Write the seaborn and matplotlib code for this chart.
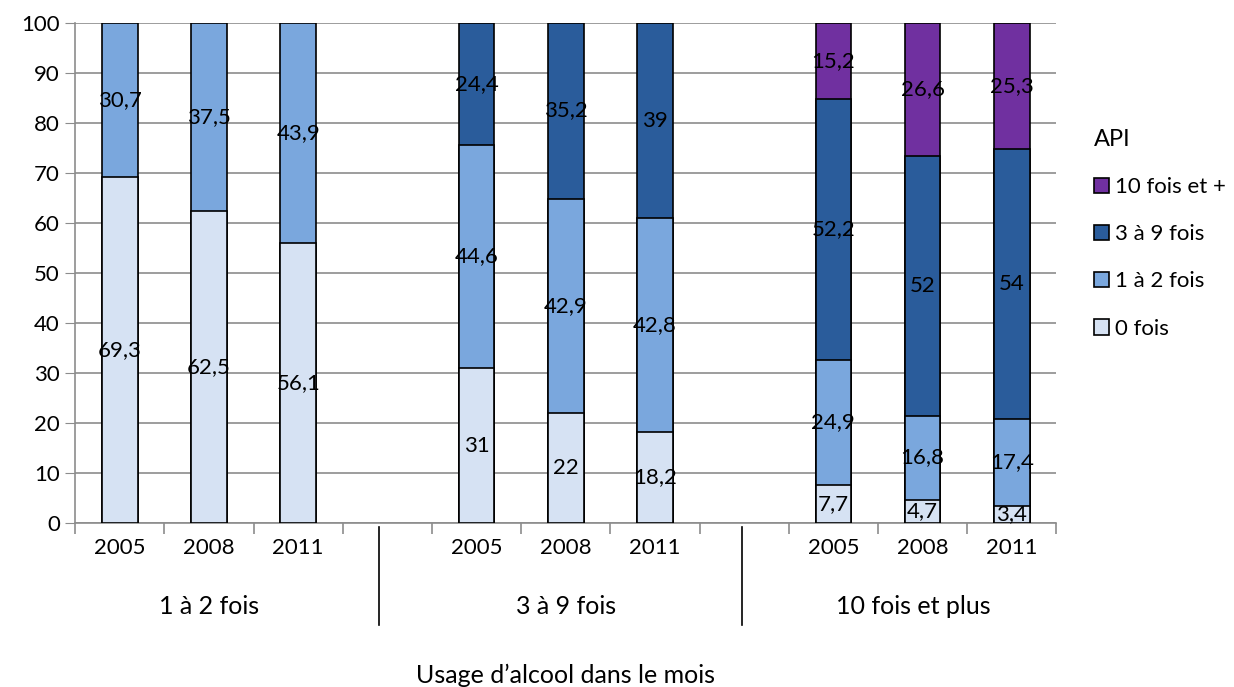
import matplotlib
matplotlib.use("Agg")
import matplotlib.pyplot as plt
from matplotlib.patches import Patch
import numpy as np
import pandas as pd
import seaborn as sns

# data (percent of pupils)
groups = ["1 à 2 fois", "3 à 9 fois", "10 fois et plus"]
years = ["2005", "2008", "2011"]
series = ["0 fois", "1 à 2 fois", "3 à 9 fois", "10 fois et +"]
colors = ["#D6E2F3", "#7AA7DD", "#2A5C9B", "#7030A0"]

v_0fois = [69.3, 62.5, 56.1, 31, 22, 18.2, 7.7, 4.7, 3.4]
v_1a2 = [30.7, 37.5, 43.9, 44.6, 42.9, 42.8, 24.9, 16.8, 17.4]
v_3a9 = [np.nan, np.nan, np.nan, 24.4, 35.2, 39, 52.2, 52, 54]
v_10p = [np.nan, np.nan, np.nan, np.nan, np.nan, np.nan, 15.2, 26.6, 25.3]

# 11 slots: three groups of three bars with an empty slot in between
slots = ["g0_2005", "g0_2008", "g0_2011", "gap1",
         "g1_2005", "g1_2008", "g1_2011", "gap2",
         "g2_2005", "g2_2008", "g2_2011"]
bar_slots = [s for s in slots if not s.startswith("gap")]

vals = np.array([v_0fois, v_1a2, v_3a9, v_10p], dtype=float)
cum = np.nancumsum(vals, axis=0)

plt.rcParams["font.family"] = ["Lato", "DejaVu Sans"]
fig = plt.figure(figsize=(12.34, 6.87), dpi=100)
ax = fig.add_axes([0.061, 0.2387, 0.795, 0.7278])

# draw cumulative layers top-down so lower layers overlap upper ones
for k in range(3, -1, -1):
    h = np.where(np.isnan(vals[k]), np.nan, cum[k])
    df = pd.DataFrame({"slot": bar_slots, "h": h}).dropna()
    sns.barplot(data=df, x="slot", y="h", order=slots, color=colors[k],
                saturation=1, width=0.4, edgecolor="black", linewidth=1.2,
                ax=ax, zorder=3)

# segment labels
pos = {s: i for i, s in enumerate(slots)}
for k in range(4):
    for j, s in enumerate(bar_slots):
        v = vals[k][j]
        if np.isnan(v):
            continue
        mid = cum[k][j] - v / 2
        txt = f"{v:g}".replace(".", ",")
        ax.text(pos[s], mid, txt, ha="center", va="center", fontsize=16,
                color="black", zorder=5)

ax.set_xlim(-0.5, 10.5)
ax.set_ylim(0, 100)
ax.set_yticks(range(0, 101, 10))
ax.yaxis.grid(True, color="#8C8C8C", linewidth=1.2, zorder=0)
ax.set_axisbelow(True)
ax.tick_params(axis="y", labelsize=16, length=7, color="#8C8C8C", pad=4)

xlabels = ["2005", "2008", "2011", "", "2005", "2008", "2011", "", "2005", "2008", "2011"]
ax.set_xticks(range(len(slots)))
ax.set_xticklabels(xlabels, fontsize=16)
ax.tick_params(axis="x", length=0, pad=11)
ax.set_xticks(np.arange(-0.5, 11, 1), minor=True)
ax.tick_params(axis="x", which="minor", length=8, color="#8C8C8C", width=1.2)
ax.set_xlabel("")
ax.set_ylabel("")

for side in ["top", "right"]:
    ax.spines[side].set_visible(False)
for side in ["left", "bottom"]:
    ax.spines[side].set_color("#8C8C8C")
    ax.spines[side].set_linewidth(1.2)

# group labels and separators below the axis
trans = ax.get_xaxis_transform()
for gx, g in zip([1, 5, 8.9], groups):
    ax.text(gx, -0.166, g, transform=trans, ha="center", va="center",
            fontsize=18)
for sx in [2.91, 6.98]:
    ax.plot([sx, sx], [-0.008, -0.204], transform=trans, color="black",
            linewidth=1.2, clip_on=False)

ax.text(0.5, -0.305, "Usage d\u2019alcool dans le mois", transform=ax.transAxes,
        ha="center", va="center", fontsize=18)

handles = [Patch(facecolor=colors[k], edgecolor="black", linewidth=1.2,
                 label=series[k]) for k in range(3, -1, -1)]
leg = fig.legend(handles=handles, title="API", loc="upper left",
                 bbox_to_anchor=(0.879, 0.825), frameon=False, fontsize=16,
                 title_fontsize=17, handlelength=0.7, handleheight=0.7,
                 handletextpad=0.25, labelspacing=1.22, borderaxespad=0)
leg._legend_box.align = "left"

fig.savefig("out.png", dpi=100)
